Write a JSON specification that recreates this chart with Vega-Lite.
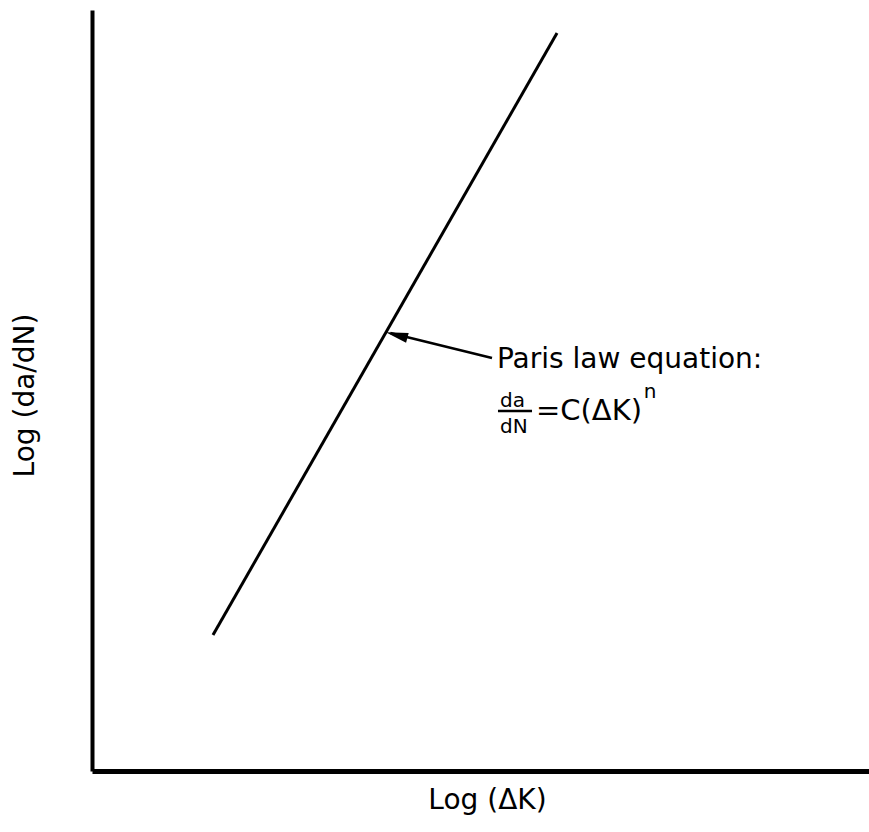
{
  "$schema": "https://vega.github.io/schema/vega-lite/v6.json",
  "autosize": "none",
  "width": 777,
  "height": 761,
  "padding": {"left": 92, "top": 10, "right": 0, "bottom": 61},
  "background": "white",
  "config": {"view": {"stroke": null}, "font": "DejaVu Sans"},
  "datasets": {
    "law": [{"logK": 1.557, "logR": 1.787}, {"logK": 5.985, "logR": 9.698}],
    "arrow": [{"logK": 5.148, "logR": 5.427}, {"logK": 3.84, "logR": 5.755}],
    "head": [{"logK": 3.92, "logR": 5.729}],
    "label": [{"logK": 5.212, "logR": 5.296, "text": "Paris law equation:"}],
    "frac": [{"logK": 5.251, "logR": 4.783, "text": "da"}, {"logK": 5.251, "logR": 4.442, "text": "dN"}],
    "bar": [{"logK": 5.225, "logR": 4.731}, {"logK": 5.663, "logR": 4.731}],
    "rhs": [{"logK": 5.714, "logR": 4.612, "text": "=C(ΔK)"}],
    "sup": [{"logK": 7.10, "logR": 4.90, "text": "n"}]
  },
  "layer": [
    {
      "data": {"name": "law"},
      "mark": {"type": "line", "color": "black", "strokeWidth": 3},
      "encoding": {
        "x": {"field": "logK", "type": "quantitative", "scale": {"domain": [0, 10], "nice": false},
          "axis": {"title": "Log (ΔK)", "ticks": false, "labels": false, "grid": false, "domainColor": "black", "domainWidth": 5, "titleFont": "DejaVu Sans", "titleFontSize": 28, "titleFontWeight": "normal", "titlePadding": 15, "titleX": 395, "titleColor": "black"}},
        "y": {"field": "logR", "type": "quantitative", "scale": {"domain": [0, 10], "nice": false},
          "axis": {"title": "Log (da/dN)", "ticks": false, "labels": false, "grid": false, "domainColor": "black", "domainWidth": 4, "titleFont": "DejaVu Sans", "titleFontSize": 28, "titleFontWeight": "normal", "titleX": -59, "titleY": 385, "titleBaseline": "alphabetic", "titleColor": "black"}}
      }
    },
    {
      "data": {"name": "arrow"},
      "mark": {"type": "line", "color": "black", "strokeWidth": 2.5},
      "encoding": {"x": {"field": "logK", "type": "quantitative"}, "y": {"field": "logR", "type": "quantitative"}}
    },
    {
      "data": {"name": "head"},
      "mark": {"type": "point", "shape": "M-1,0L1,-0.45L1,0.45Z", "filled": true, "color": "black", "opacity": 1, "size": 500, "angle": 15},
      "encoding": {"x": {"field": "logK", "type": "quantitative"}, "y": {"field": "logR", "type": "quantitative"}}
    },
    {
      "data": {"name": "label"},
      "mark": {"type": "text", "align": "left", "baseline": "alphabetic", "fontSize": 28, "color": "black"},
      "encoding": {"x": {"field": "logK", "type": "quantitative"}, "y": {"field": "logR", "type": "quantitative"}, "text": {"field": "text"}}
    },
    {
      "data": {"name": "frac"},
      "mark": {"type": "text", "align": "left", "baseline": "alphabetic", "fontSize": 20, "color": "black"},
      "encoding": {"x": {"field": "logK", "type": "quantitative"}, "y": {"field": "logR", "type": "quantitative"}, "text": {"field": "text"}}
    },
    {
      "data": {"name": "bar"},
      "mark": {"type": "line", "color": "black", "strokeWidth": 2.5},
      "encoding": {"x": {"field": "logK", "type": "quantitative"}, "y": {"field": "logR", "type": "quantitative"}}
    },
    {
      "data": {"name": "rhs"},
      "mark": {"type": "text", "align": "left", "baseline": "alphabetic", "fontSize": 29, "color": "black"},
      "encoding": {"x": {"field": "logK", "type": "quantitative"}, "y": {"field": "logR", "type": "quantitative"}, "text": {"field": "text"}}
    },
    {
      "data": {"name": "sup"},
      "mark": {"type": "text", "align": "left", "baseline": "alphabetic", "fontSize": 20, "color": "black"},
      "encoding": {"x": {"field": "logK", "type": "quantitative"}, "y": {"field": "logR", "type": "quantitative"}, "text": {"field": "text"}}
    }
  ]
}
